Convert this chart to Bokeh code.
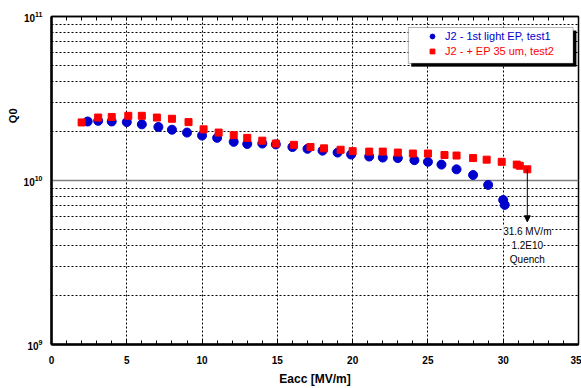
from bokeh.plotting import figure
from bokeh.models import (Range1d, FixedTicker, LinearAxis, Legend, LegendItem,
                          BoxAnnotation, Arrow, NormalHead, Label, Title)
from bokeh.embed import file_html
from bokeh.resources import INLINE

# test1 (blue circles)
eacc1 = [2.4, 3.1, 4.0, 5.0, 6.0, 7.1, 8.0, 9.0, 10.0, 11.0, 12.1, 13.0, 14.0, 14.9,
         16.0, 17.0, 18.0, 19.0, 19.9, 21.1, 22.0, 23.0, 24.1, 25.0, 25.9, 26.9, 28.0,
         29.0, 30.0, 30.1]
q1 = [2.29e10, 2.31e10, 2.29e10, 2.27e10, 2.20e10, 2.12e10, 2.04e10, 1.96e10, 1.88e10,
      1.82e10, 1.72e10, 1.67e10, 1.68e10, 1.66e10, 1.60e10, 1.56e10, 1.52e10, 1.48e10,
      1.44e10, 1.40e10, 1.38e10, 1.37e10, 1.33e10, 1.30e10, 1.25e10, 1.17e10, 1.08e10,
      9.4e9, 7.6e9, 7.1e9]
# test2 (red squares)
eacc2 = [2.0, 3.1, 4.0, 5.1, 6.0, 7.0, 8.0, 9.1, 10.1, 11.1, 12.1, 13.0, 14.0, 14.9,
         16.1, 17.2, 18.1, 19.2, 20.0, 21.1, 22.0, 23.0, 24.0, 25.0, 26.1, 26.9, 28.0,
         28.9, 29.9, 30.9, 31.1, 31.6]
q2 = [2.26e10, 2.42e10, 2.44e10, 2.48e10, 2.48e10, 2.42e10, 2.38e10, 2.27e10, 2.05e10,
      1.96e10, 1.89e10, 1.82e10, 1.75e10, 1.68e10, 1.65e10, 1.60e10, 1.57e10, 1.54e10,
      1.51e10, 1.50e10, 1.50e10, 1.48e10, 1.46e10, 1.46e10, 1.43e10, 1.42e10, 1.37e10,
      1.34e10, 1.30e10, 1.25e10, 1.23e10, 1.17e10]

labels = ["J2 - 1st light EP, test1", "J2 - + EP 35 um, test2"]
x_ticks = [0, 5, 10, 15, 20, 25, 30, 35]
y_ticks = [1e9, 1e10, 1e11]
note_lines = ["31.6 MV/m", "1.2E10", "Quench"]
note_x = 31.6
note_y = [4.87e9, 4.0e9, 3.29e9]
arrow_y = [1.17e10, 5.6e9]

FONT = "Liberation Sans"
BLUE = "#0000CC"
RED = "#FF0000"

p = figure(width=581, height=388, y_axis_type="log",
           x_range=Range1d(0, 35), y_range=Range1d(1e9, 1e11),
           output_backend="svg", toolbar_location=None,
           min_border_left=51, min_border_right=3, min_border_top=16, min_border_bottom=43)
p.background_fill_color = "white"
p.border_fill_color = "white"
p.outline_line_color = "black"
p.outline_line_width = 1.5

minor_y = [m * 10 ** e for e in (9, 10) for m in range(2, 10)]
p.yaxis.ticker = FixedTicker(ticks=y_ticks, minor_ticks=minor_y)
p.xaxis.ticker = FixedTicker(ticks=x_ticks, minor_ticks=list(range(0, 36)))

for ax in (p.xaxis[0], p.yaxis[0]):
    ax.axis_line_width = 2.5
    ax.axis_line_color = "black"
    ax.major_label_text_font = FONT
    ax.major_label_text_font_style = "bold"
    ax.major_label_text_font_size = "10px"
    ax.major_label_text_color = "black"
    ax.axis_label_text_font = FONT
    ax.axis_label_text_font_style = "bold"
    ax.axis_label_text_color = "black"

p.xaxis.major_tick_in = 5
p.xaxis.major_tick_out = 0
p.xaxis.minor_tick_in = 4
p.xaxis.minor_tick_out = 0
p.xaxis.major_label_standoff = 11
p.xaxis.axis_label = "Eacc [MV/m]"
p.xaxis.axis_label_text_font_size = "12px"
p.xaxis.axis_label_standoff = 5

p.yaxis.major_tick_in = 0
p.yaxis.major_tick_out = 0
p.yaxis.minor_tick_in = 0
p.yaxis.minor_tick_out = 0
p.yaxis.major_label_standoff = 9

top = LinearAxis(ticker=FixedTicker(ticks=[], minor_ticks=list(range(0, 36))),
                 major_tick_in=0, major_tick_out=0,
                 minor_tick_in=4, minor_tick_out=0, axis_line_width=1.5,
                 major_label_standoff=0)
p.add_layout(top, "above")

p.add_layout(Title(text="Q0", align="right", offset=92, text_font=FONT,
                   text_font_style="bold", text_font_size="11px", text_color="black",
                   standoff=4), "left")

p.xgrid.ticker = FixedTicker(ticks=x_ticks)
p.xgrid.grid_line_color = "black"
p.xgrid.grid_line_dash = "2 2"
p.xgrid.grid_line_width = 1
p.ygrid.grid_line_color = "#808080"
p.ygrid.grid_line_width = 1.5
p.ygrid.minor_grid_line_color = "black"
p.ygrid.minor_grid_line_dash = "2 2"
p.ygrid.minor_grid_line_width = 1

r1 = p.scatter(eacc1, q1, marker="circle", size=9, fill_color=BLUE, line_color=BLUE)
r2 = p.scatter(eacc2, q2, marker="square", size=7, fill_color=RED, line_color=RED)

# arrow + note
p.add_layout(Arrow(x_start=note_x, y_start=arrow_y[0], x_end=note_x, y_end=arrow_y[1],
                   line_color="black", line_width=1,
                   end=NormalHead(size=6, fill_color="black", line_color="black")))
for t, yy in zip(note_lines, note_y):
    p.add_layout(Label(x=note_x, y=yy, text=t, text_align="center", text_baseline="middle",
                       text_font=FONT, text_font_size="10px", text_color="black",
                       background_fill_color="white"))

# legend box with shadow
p.add_layout(BoxAnnotation(left=23.9, right=34.85, bottom=4.96e10, top=8.2e10,
                           fill_color="black", fill_alpha=1, line_color="black"))
p.add_layout(BoxAnnotation(left=23.7, right=34.64, bottom=5.18e10, top=8.57e10,
                           fill_color="white", fill_alpha=1, line_color="black",
                           line_width=1))

for r, lab, col, yloc in ((r1, labels[0], BLUE, 302), (r2, labels[1], RED, 287)):
    lg = Legend(items=[LegendItem(label=lab, renderers=[r])], location=(375, yloc),
                background_fill_alpha=0, border_line_alpha=0, padding=0, margin=0,
                spacing=0, glyph_width=12, glyph_height=12, label_height=12,
                label_standoff=7, label_text_font=FONT, label_text_font_size="11px",
                label_text_color=col)
    p.add_layout(lg, "center")

open("out.html", "w").write(file_html(p, INLINE))
